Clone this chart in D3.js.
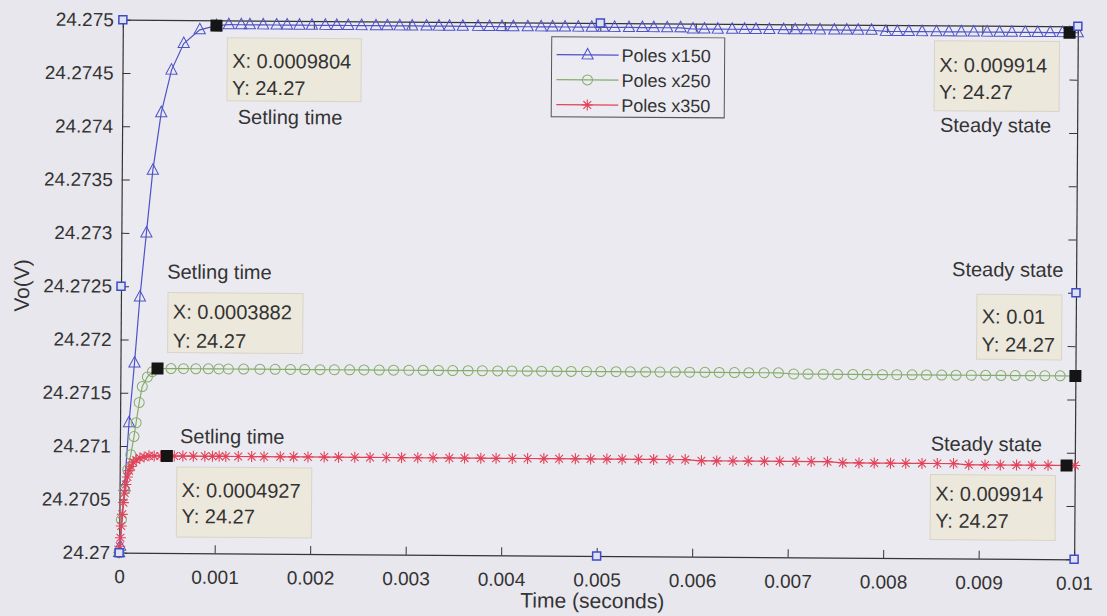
<!DOCTYPE html>
<html>
<head>
<meta charset="utf-8">
<script src="https://cdn.jsdelivr.net/npm/d3@7"></script>
<style>
  html, body { margin: 0; padding: 0; background: #e8e7ed; }
  svg { display: block; font-family: "Liberation Sans", Arial, sans-serif; }
</style>
</head>
<body>
<svg id="chart" width="1107" height="616"></svg>
<script>
// ---- axis ticks ----
const xTicks = [0, 0.001, 0.002, 0.003, 0.004, 0.005, 0.006, 0.007, 0.008, 0.009, 0.01];
const xTickLabels = ["0", "0.001", "0.002", "0.003", "0.004", "0.005", "0.006", "0.007", "0.008", "0.009", "0.01"];
const yTicks = [24.27, 24.2705, 24.271, 24.2715, 24.272, 24.2725, 24.273, 24.2735, 24.274, 24.2745, 24.275];
const yTickLabels = ["24.27", "24.2705", "24.271", "24.2715", "24.272", "24.2725", "24.273", "24.2735", "24.274", "24.2745", "24.275"];

const seriesNames = ["Poles x150", "Poles x250", "Poles x350"];

// ---- output voltage Vo(V) against time (s) ----
const poles150 = [
  [0, 24.27000], [0.000010, 24.27006], [0.000052, 24.27062], [0.000094, 24.27122], [0.000147, 24.27178],
  [0.000199, 24.27240], [0.000262, 24.27300], [0.000325, 24.27359], [0.000409, 24.27413], [0.000513, 24.27453],
  [0.000639, 24.27478], [0.000806, 24.27491], [0.0009804, 24.27495],
  [0.00111, 24.27496], [0.00124, 24.27496], [0.00133, 24.27496], [0.00147, 24.27496], [0.00161, 24.27496],
  [0.00172, 24.27496], [0.00185, 24.27496], [0.00198, 24.27496], [0.00212, 24.27496], [0.00224, 24.27496],
  [0.00236, 24.27496], [0.00250, 24.27496], [0.00265, 24.27496], [0.00277, 24.27496], [0.00290, 24.27496],
  [0.00303, 24.27496], [0.00318, 24.27496], [0.00331, 24.27496], [0.00342, 24.27496], [0.00356, 24.27496],
  [0.00372, 24.27496], [0.00384, 24.27496], [0.00397, 24.27496], [0.00409, 24.27496], [0.00424, 24.27496],
  [0.00438, 24.27496], [0.00450, 24.27496], [0.00463, 24.27496], [0.00477, 24.27496], [0.00491, 24.27496],
  [0.00503, 24.27496], [0.00515, 24.27496], [0.00530, 24.27496], [0.00544, 24.27496], [0.00556, 24.27496],
  [0.00570, 24.27496], [0.00584, 24.27496], [0.00597, 24.27495], [0.00609, 24.27495], [0.00623, 24.27495],
  [0.00638, 24.27495], [0.00651, 24.27495], [0.00663, 24.27495], [0.00677, 24.27495], [0.00692, 24.27495],
  [0.00704, 24.27495], [0.00716, 24.27495], [0.00730, 24.27495], [0.00745, 24.27495], [0.00758, 24.27495],
  [0.00770, 24.27495], [0.00784, 24.27495], [0.00799, 24.27494], [0.00811, 24.27494], [0.00823, 24.27494],
  [0.00837, 24.27494], [0.00852, 24.27494], [0.00865, 24.27494], [0.00878, 24.27494], [0.00891, 24.27494],
  [0.00905, 24.27494], [0.00918, 24.27494], [0.00931, 24.27494], [0.00945, 24.27494], [0.00958, 24.27494],
  [0.00971, 24.27494], [0.00984, 24.27494], [0.009914, 24.27494], [0.01, 24.27494]
];

const poles250 = [
  [0, 24.27000], [0.000021, 24.27031], [0.000052, 24.27059], [0.000084, 24.27078], [0.000115, 24.27092],
  [0.000147, 24.27109], [0.000168, 24.27122], [0.000199, 24.27141], [0.000230, 24.27156], [0.000283, 24.27165],
  [0.000335, 24.27170], [0.0003882, 24.27173],
  [0.00053, 24.27173], [0.00066, 24.27173], [0.00079, 24.27173], [0.00092, 24.27173], [0.00103, 24.27173],
  [0.00113, 24.27173], [0.00129, 24.27173], [0.00146, 24.27173], [0.00162, 24.27173], [0.00178, 24.27173],
  [0.00193, 24.27173], [0.00209, 24.27173], [0.00224, 24.27173], [0.00240, 24.27173], [0.00255, 24.27173],
  [0.00271, 24.27173], [0.00286, 24.27173], [0.00302, 24.27173], [0.00317, 24.27173], [0.00333, 24.27173],
  [0.00348, 24.27173], [0.00364, 24.27173], [0.00379, 24.27173], [0.00395, 24.27173], [0.00410, 24.27173],
  [0.00426, 24.27173], [0.00441, 24.27173], [0.00457, 24.27173], [0.00472, 24.27173], [0.00488, 24.27173],
  [0.00503, 24.27173], [0.00519, 24.27173], [0.00534, 24.27173], [0.00550, 24.27173], [0.00565, 24.27173],
  [0.00581, 24.27173], [0.00596, 24.27173], [0.00612, 24.27173], [0.00627, 24.27173], [0.00643, 24.27173],
  [0.00658, 24.27173], [0.00674, 24.27173], [0.00689, 24.27173], [0.00705, 24.27172], [0.00720, 24.27172],
  [0.00736, 24.27172], [0.00751, 24.27172], [0.00767, 24.27172], [0.00782, 24.27172], [0.00798, 24.27172],
  [0.00813, 24.27172], [0.00829, 24.27172], [0.00844, 24.27172], [0.00860, 24.27172], [0.00875, 24.27172],
  [0.00891, 24.27172], [0.00906, 24.27172], [0.00922, 24.27172], [0.00937, 24.27172], [0.00953, 24.27172],
  [0.00968, 24.27172], [0.00984, 24.27172], [0.01, 24.27172]
];

const poles350 = [
  [0, 24.27000], [0.000005, 24.27006], [0.000012, 24.27014], [0.000020, 24.27025], [0.000030, 24.27036],
  [0.000041, 24.27047], [0.000053, 24.27056], [0.000066, 24.27064], [0.000081, 24.27071], [0.000098, 24.27077],
  [0.000118, 24.27081], [0.000142, 24.27085], [0.000172, 24.27087], [0.000210, 24.27089], [0.000255, 24.27090],
  [0.000305, 24.27091], [0.000360, 24.27091], [0.000425, 24.27091], [0.0004927, 24.27091],
  [0.00057, 24.27091], [0.00066, 24.27091], [0.00077, 24.27091], [0.00089, 24.27091], [0.00097, 24.27091],
  [0.00104, 24.27091], [0.00111, 24.27091], [0.00124, 24.27091], [0.00138, 24.27091], [0.00151, 24.27091],
  [0.00168, 24.27091], [0.00182, 24.27091], [0.00197, 24.27091], [0.00214, 24.27091], [0.00229, 24.27091],
  [0.00246, 24.27091], [0.00262, 24.27091], [0.00279, 24.27091], [0.00295, 24.27091], [0.00312, 24.27091],
  [0.00328, 24.27091], [0.00345, 24.27091], [0.00361, 24.27091], [0.00378, 24.27091], [0.00394, 24.27091],
  [0.00411, 24.27091], [0.00427, 24.27091], [0.00444, 24.27091], [0.00460, 24.27091], [0.00477, 24.27091],
  [0.00493, 24.27091], [0.00510, 24.27091], [0.00526, 24.27091], [0.00543, 24.27091], [0.00559, 24.27091],
  [0.00576, 24.27091], [0.00592, 24.27091], [0.00609, 24.27090], [0.00625, 24.27090], [0.00642, 24.27090],
  [0.00658, 24.27090], [0.00675, 24.27090], [0.00691, 24.27090], [0.00708, 24.27090], [0.00724, 24.27090],
  [0.00741, 24.27090], [0.00757, 24.27089], [0.00774, 24.27089], [0.00790, 24.27089], [0.00807, 24.27089],
  [0.00823, 24.27089], [0.00840, 24.27089], [0.00856, 24.27089], [0.00873, 24.27089], [0.00889, 24.27088],
  [0.00906, 24.27088], [0.00922, 24.27088], [0.00939, 24.27088], [0.00955, 24.27088], [0.00972, 24.27088],
  [0.009914, 24.27088], [0.01, 24.27088]
];

// ---- data tips: series index, time, displayed Y, caption ----
const tipSeries = [0, 1, 2, 0, 1, 2];
const tipTimes = [0.0009804, 0.0003882, 0.0004927, 0.009914, 0.01, 0.009914];
const tipXLabels = ["0.0009804", "0.0003882", "0.0004927", "0.009914", "0.01", "0.009914"];
const tipYLabels = ["24.27", "24.27", "24.27", "24.27", "24.27", "24.27"];
const tipCaptions = ["Setling time", "Setling time", "Setling time", "Steady state", "Steady state", "Steady state"];

// ---- layout ----
const W = 1107, H = 616;
const plot = { left: 121, right: 1076, top: 23, bottom: 556 };
const colors = ["#4d52c8", "#84ad68", "#e2425a"];
const axisColor = "#353535";
const tickFont = 19;

const svg = d3.select("#chart");
svg.append("rect").attr("width", W).attr("height", H).attr("fill", "#e8e7ed");

// the printed figure sits very slightly askew on the page
const root = svg.append("g")
  .attr("transform", `rotate(0.4, ${(plot.left + plot.right) / 2}, ${(plot.top + plot.bottom) / 2})`);

const x = d3.scaleLinear().domain([0, 0.01]).range([plot.left, plot.right]);
const y = d3.scaleLinear().domain([24.27, 24.275]).range([plot.bottom, plot.top]);

root.append("rect")
  .attr("x", plot.left).attr("y", plot.top)
  .attr("width", plot.right - plot.left).attr("height", plot.bottom - plot.top)
  .attr("fill", "#ebeaf0");

// ---- axes (ticks point inward, box closed on all four sides) ----
function styleAxis(g) {
  g.attr("font-size", tickFont).attr("font-family", "'Liberation Sans', Arial, sans-serif");
  g.selectAll("path.domain").attr("stroke", axisColor).attr("stroke-width", 1.2);
  g.selectAll(".tick line").attr("stroke", axisColor).attr("stroke-width", 1);
  g.selectAll(".tick text").attr("fill", "#333");
}

root.append("g").attr("transform", `translate(0,${plot.bottom})`)
  .call(d3.axisBottom(x).tickValues(xTicks).tickFormat((d, i) => xTickLabels[i])
    .tickSizeInner(-8).tickSizeOuter(0).tickPadding(17))
  .call(styleAxis);

root.append("g").attr("transform", `translate(${plot.left},0)`)
  .call(d3.axisLeft(y).tickValues(yTicks).tickFormat((d, i) => yTickLabels[i])
    .tickSizeInner(-8).tickSizeOuter(0).tickPadding(9))
  .call(styleAxis);

root.append("g").attr("transform", `translate(0,${plot.top})`)
  .call(d3.axisTop(x).tickValues(xTicks).tickFormat("").tickSizeInner(-8).tickSizeOuter(0))
  .call(styleAxis);

root.append("g").attr("transform", `translate(${plot.right},0)`)
  .call(d3.axisRight(y).tickValues(yTicks).tickFormat("").tickSizeInner(-8).tickSizeOuter(0))
  .call(styleAxis);

// axis titles
root.append("text")
  .attr("x", (plot.left + plot.right) / 2 - 4).attr("y", 608)
  .attr("text-anchor", "middle").attr("font-size", 21).attr("fill", "#333")
  .text("Time (seconds)");
root.append("text")
  .attr("transform", `translate(29,${(plot.top + plot.bottom) / 2}) rotate(-90)`)
  .attr("text-anchor", "middle").attr("font-size", 21).attr("fill", "#333")
  .text("Vo(V)");

// ---- marker shapes ----
function drawMarker(g, kind, color) {
  if (kind === 0) {
    g.append("path").attr("d", "M0,-6.5L5.6,4L-5.6,4Z")
      .attr("fill", "none").attr("stroke", color).attr("stroke-width", 1);
  } else if (kind === 1) {
    g.append("circle").attr("r", 5).attr("fill", "none").attr("stroke", color).attr("stroke-width", 1);
  } else {
    g.append("path").attr("d", "M0,-5.5V5.5M-5.5,0H5.5M-3.9,-3.9L3.9,3.9M-3.9,3.9L3.9,-3.9")
      .attr("fill", "none").attr("stroke", color).attr("stroke-width", 1.1);
  }
}

const allSeries = [poles150, poles250, poles350];
const line = d3.line().x(d => x(d[0])).y(d => y(d[1]));

allSeries.forEach((data, si) => {
  const g = root.append("g");
  g.append("path").datum(data).attr("d", line)
    .attr("fill", "none").attr("stroke", colors[si]).attr("stroke-width", 1.2);
  g.selectAll("g.mk").data(data).join("g").attr("class", "mk")
    .attr("transform", d => `translate(${x(d[0])},${y(d[1])})`)
    .each(function () { drawMarker(d3.select(this), si, colors[si]); });
});

// ---- legend ----
const legend = root.append("g").attr("transform", "translate(550,37)");
legend.append("rect").attr("width", 173).attr("height", 80)
  .attr("fill", "#ecebf1").attr("stroke", "#555").attr("stroke-width", 1);
seriesNames.forEach((name, i) => {
  const row = legend.append("g").attr("transform", `translate(0,${18 + i * 25})`);
  row.append("line").attr("x1", 5).attr("x2", 67).attr("y1", 0).attr("y2", 0)
    .attr("stroke", colors[i]).attr("stroke-width", 1.2);
  drawMarker(row.append("g").attr("transform", "translate(36,0)"), i, colors[i]);
  row.append("text").attr("x", 70).attr("y", 6.5).attr("font-size", 18).attr("fill", "#333").text(name);
});

// ---- data tips with captions ----
// offsets in px from the tip point: box [dx, dy, w, h], text baselines, caption [dx, dy]
const tipLayout = [
  { box: [11, 12, 134, 63], base: [42, 69], cap: [22, 98] },
  { box: [10, -76, 135, 60], base: [-50, -21], cap: [9, -90] },
  { box: [10, 11, 135, 70], base: [41, 67], cap: [13, -13] },
  { box: [-135, 9, 125, 70], base: [40, 67], cap: [-129, 100] },
  { box: [-99, -81, 85, 65], base: [-52, -24], cap: [-124, -99] },
  { box: [-136, 10, 125, 65], base: [36, 63], cap: [-136, -14] }
];

tipTimes.forEach((t, i) => {
  const data = allSeries[tipSeries[i]];
  const pt = data.find(d => d[0] === t);
  const px = x(pt[0]), py = y(pt[1]);
  const L = tipLayout[i];
  const g = root.append("g");
  g.append("rect")
    .attr("x", px + L.box[0]).attr("y", py + L.box[1])
    .attr("width", L.box[2]).attr("height", L.box[3])
    .attr("fill", "#ece8dc").attr("stroke", "#d8d4c8").attr("stroke-width", 1);
  g.append("text").attr("x", px + L.box[0] + 5).attr("y", py + L.base[0])
    .attr("font-size", 20).attr("fill", "#333").text("X: " + tipXLabels[i]);
  g.append("text").attr("x", px + L.box[0] + 5).attr("y", py + L.base[1])
    .attr("font-size", 20).attr("fill", "#333").text("Y: " + tipYLabels[i]);
  g.append("text").attr("x", px + L.cap[0]).attr("y", py + L.cap[1])
    .attr("font-size", 20).attr("fill", "#333").text(tipCaptions[i]);
  g.append("rect").attr("x", px - 6).attr("y", py - 6).attr("width", 12).attr("height", 12)
    .attr("fill", "#151515");
});

// ---- selection handles on the axes box ----
const hx = [plot.left, (plot.left + plot.right) / 2, plot.right];
const hy = [plot.top, (plot.top + plot.bottom) / 2, plot.bottom];
const handles = [];
hx.forEach((a, i) => hy.forEach((b, j) => { if (!(i === 1 && j === 1)) handles.push([a, b]); }));
root.selectAll("rect.handle").data(handles).join("rect").attr("class", "handle")
  .attr("x", d => d[0] - 4).attr("y", d => d[1] - 4).attr("width", 8).attr("height", 8)
  .attr("fill", "#dfe0f2").attr("stroke", "#3d4cc4").attr("stroke-width", 1.5);
</script>
</body>
</html>
